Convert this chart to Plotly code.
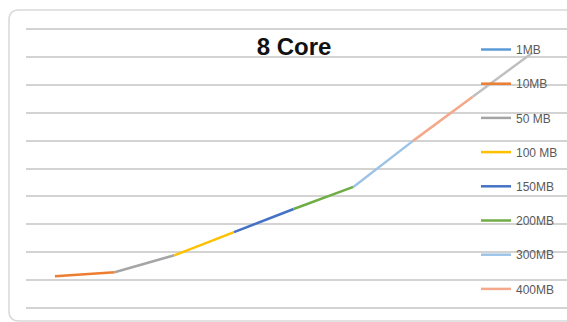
import plotly.graph_objects as go

# Data (y axis has no labels, so arbitrary units with one gridline per unit)
categories = [0, 1, 2, 3, 4, 5, 6, 7, 8]
values = [1.14, 1.28, 1.89, 2.72, 3.55, 4.34, 5.99, 7.57, 9.15]
series_names = ["1MB", "10MB", "50 MB", "100 MB", "150MB", "200MB", "300MB", "400MB", "500MB"]
series_colors = ["#5B9BD5", "#ED7D31", "#A5A5A5", "#FFC000", "#4472C4", "#70AD47",
                 "#9DC3E6", "#F4A98A", "#BFBFBF"]
legend_shown = [True, True, True, True, True, True, True, True, False]

W, H = 567, 322
ML, MR, MT, MB = 26, 0, 15, 0

fig = go.Figure()
for k, name in enumerate(series_names):
    if k == 0:
        xs, ys = [categories[0]], [values[0]]
    else:
        xs, ys = categories[k - 1:k + 1], values[k - 1:k + 1]
    fig.add_trace(go.Scatter(
        x=xs, y=ys, mode="lines", name=name,
        line=dict(color=series_colors[k], width=2.5),
        legendgroup=name, showlegend=legend_shown[k],
        hoverinfo="skip",
    ))

pw = W - ML - MR
ph = H - MT - MB
def px2x(p):
    return (p - ML) / pw
def py2y(p):
    return (H - MB - p) / ph

x0, x1 = px2x(9), px2x(600)
y0, y1 = py2y(321), py2y(10)
rx, ry = 10 / pw, 10 / ph
border_path = (f"M {x1},{y1} L {x0+rx},{y1} Q {x0},{y1} {x0},{y1-ry} "
               f"L {x0},{y0+ry} Q {x0},{y0} {x0+rx},{y0} L {x1},{y0}")

fig.update_layout(
    width=W, height=H,
    margin=dict(l=ML, r=MR, t=MT, b=MB),
    paper_bgcolor="white", plot_bgcolor="white",
    title=dict(text="<b>8 Core</b>", x=294 / W, xref="container", xanchor="center",
               y=1 - 47 / H, yref="container", yanchor="middle",
               font=dict(family="Liberation Sans, Arial", size=24, color="#111111")),
    xaxis=dict(range=[-0.485, 8.58], showgrid=False, zeroline=False, showticklabels=False,
               showline=False, ticks=""),
    yaxis=dict(range=[-0.5, 10.5], dtick=1, tick0=0, showgrid=True, gridcolor="#d3d3d3", gridwidth=1.5,
               zeroline=False, showticklabels=False, showline=False, ticks=""),
    legend=dict(x=px2x(476), y=py2y(35), xanchor="left", yanchor="top",
                bgcolor="rgba(0,0,0,0)", font=dict(family="Liberation Sans", size=12, color="#595959"),
                tracegroupgap=15.2, itemwidth=30),
    shapes=[dict(type="path", path=border_path, xref="paper", yref="paper",
                 line=dict(color="#d9d9d9", width=1.5), layer="below")],
)

fig.write_html("out.html")
